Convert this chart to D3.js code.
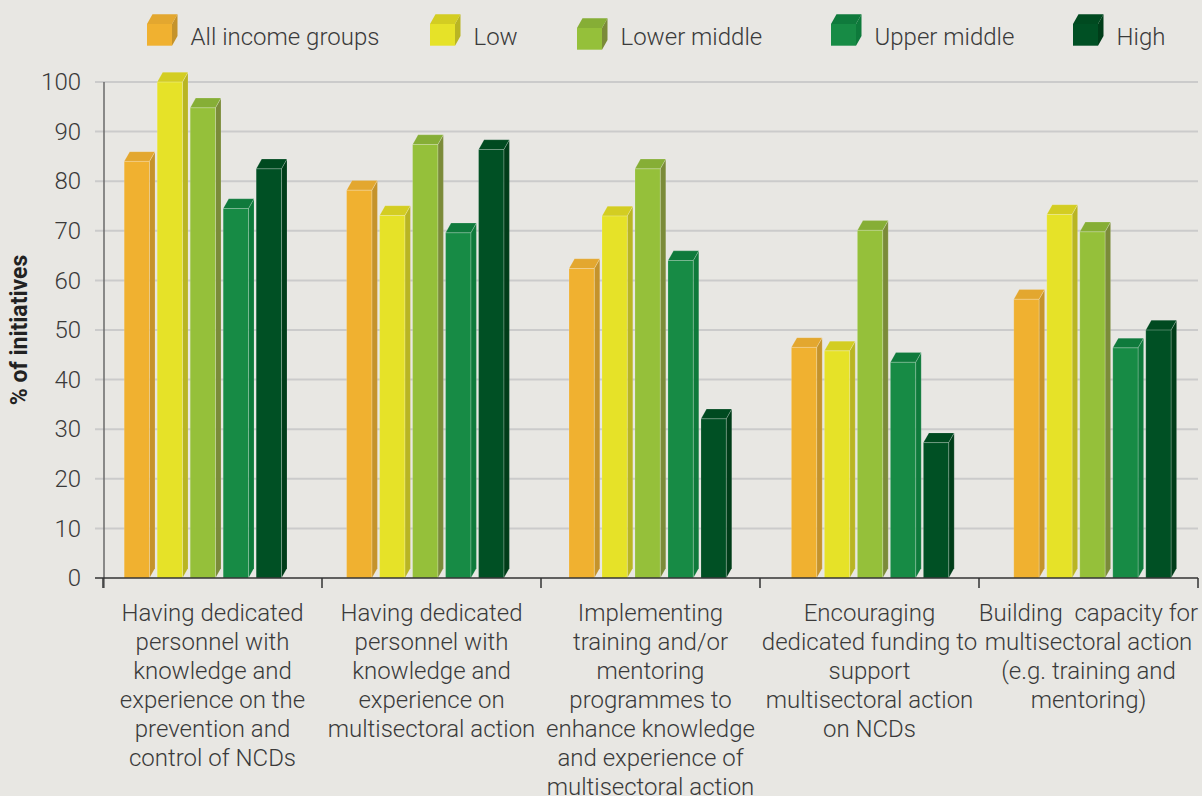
<!DOCTYPE html>
<html>
<head>
<meta charset="utf-8">
<script src="https://cdn.jsdelivr.net/npm/d3@7"></script>
<style>
  html, body { margin: 0; padding: 0; background: #e8e7e3; }
  svg { display: block; font-family: Roboto, "Noto Sans", sans-serif; }
  .lbl { white-space: pre; }
</style>
</head>
<body>
<svg id="chart" width="1202" height="796"></svg>
<script>
// categories (x axis), each one split into its printed lines
var categories = [
	["Having dedicated", "personnel with", "knowledge and", "experience on the", "prevention and", "control of NCDs"],
	["Having dedicated", "personnel with", "knowledge and", "experience on", "multisectoral action"],
	["Implementing", "training and/or", "mentoring", "programmes to", "enhance knowledge", "and experience of", "multisectoral action"],
	["Encouraging", "dedicated funding to", "support", "multisectoral action", "on NCDs"],
	["Building  capacity for", "multisectoral action", "(e.g. training and", "mentoring)"]
];

var seriesNames = ["All income groups", "Low", "Lower middle", "Upper middle", "High"];

// % of initiatives per category
var allIncome   = [84, 78.2, 62.4, 46.5, 56.2];
var lowIncome   = [100, 73.1, 73, 45.8, 73.3];
var lowerMiddle = [94.8, 87.4, 82.5, 70.1, 69.8];
var upperMiddle = [74.5, 69.6, 64, 43.5, 46.4];
var highIncome  = [82.5, 86.4, 32.1, 27.3, 50];

var yTicks = [0, 10, 20, 30, 40, 50, 60, 70, 80, 90, 100];

var seriesValues = [allIncome, lowIncome, lowerMiddle, upperMiddle, highIncome];

// front / top / side shade of each series
var colors = [
	{front: "#f0b130", top: "#e3a72f", side: "#c5932b"},
	{front: "#e6e228", top: "#d3cd22", side: "#b9b523"},
	{front: "#95c03a", top: "#86ae36", side: "#7b8b39"},
	{front: "#178b45", top: "#0f7a3c", side: "#0e7a3b"},
	{front: "#005024", top: "#004a20", side: "#003d19"}
];

var svg = d3.select("#chart");
var W = 1202, H = 796;
var depthX = 5.5, depthY = 9.7;

var catIdx = d3.range(categories.length);

var y = d3.scaleLinear().domain([0, 100]).range([578, 82]);

// tick bands for axis + labels
var xAxisBand = d3.scaleBand().domain(catIdx).range([103, 1198]);
// bar groups sit slightly off the tick bands in the original
var xGroup = d3.scaleBand().domain(catIdx).range([124.2, 124.2 + 5 * 222.4]);
var xSeries = d3.scaleBand().domain(d3.range(seriesNames.length)).range([0, 157.3]).paddingInner(0.233);

svg.append("rect").attr("width", W).attr("height", H).attr("fill", "#e8e7e3");

// grid lines
svg.append("g")
	.selectAll("line")
	.data(yTicks)
	.join("line")
	.attr("x1", 95)
	.attr("x2", 1198)
	.attr("y1", function(d){ return y(d); })
	.attr("y2", function(d){ return y(d); })
	.attr("stroke", function(d){ return d === 0 ? "none" : "#cbcbcb"; })
	.attr("stroke-width", 2);

// y axis
var yAxis = d3.axisLeft(y).tickValues(yTicks).tickSize(0).tickPadding(0);
var gy = svg.append("g").attr("transform", "translate(81,0)").call(yAxis);
gy.select(".domain").remove();
gy.selectAll("text")
	.attr("font-size", 24)
	.attr("font-weight", 300)
	.attr("fill", "#3a3a3a")
	.attr("font-family", "Roboto, sans-serif");

svg.append("line")
	.attr("x1", 104).attr("x2", 104)
	.attr("y1", y(100)).attr("y2", 588)
	.attr("stroke", "#6a6a6a").attr("stroke-width", 1.5);

// y title
svg.append("text")
	.attr("transform", "translate(27," + (y(0) + y(100)) / 2 + ") rotate(-90)")
	.attr("text-anchor", "middle")
	.attr("font-size", 23)
	.attr("font-weight", 700)
	.attr("fill", "#222")
	.text("% of initiatives");

function facePaths(x0, w, yTop, yBase){
	var dx = depthX, dy = depthY;
	return {
		front: "M" + x0 + "," + yBase + "H" + (x0 + w) + "V" + yTop + "H" + x0 + "Z",
		top: "M" + x0 + "," + yTop + "L" + (x0 + dx) + "," + (yTop - dy) + "H" + (x0 + w + dx) + "L" + (x0 + w) + "," + yTop + "Z",
		side: "M" + (x0 + w) + "," + yBase + "L" + (x0 + w + dx) + "," + (yBase - dy) + "V" + (yTop - dy) + "L" + (x0 + w) + "," + yTop + "Z"
	};
}

// bars
var barData = [];
catIdx.forEach(function(c){
	seriesValues.forEach(function(vals, s){
		barData.push({c: c, s: s, v: vals[c]});
	});
});

var bars = svg.append("g")
	.selectAll("g")
	.data(barData)
	.join("g");

bars.each(function(d){
	var g = d3.select(this);
	var p = facePaths(xGroup(d.c) + xSeries(d.s), xSeries.bandwidth(), y(d.v), y(0));
	g.append("path").attr("d", p.side).attr("fill", colors[d.s].side);
	g.append("path").attr("d", p.top).attr("fill", colors[d.s].top);
	g.append("path").attr("d", p.front).attr("fill", colors[d.s].front);
	g.append("path").attr("d", p.front + p.top + p.side)
		.attr("fill", "none").attr("stroke", "rgba(255,255,255,0.25)").attr("stroke-width", 0.6);
});

// x axis
var xAxisG = svg.append("g");
xAxisG.append("line")
	.attr("x1", 95).attr("x2", 1198)
	.attr("y1", y(0)).attr("y2", y(0))
	.attr("stroke", "#333").attr("stroke-width", 1.5);
xAxisG.selectAll(".tick")
	.data(catIdx.map(function(c){ return xAxisBand(c); }).concat([xAxisBand(4) + xAxisBand.bandwidth()]))
	.join("line")
	.attr("class", "tick")
	.attr("x1", function(d){ return d; })
	.attr("x2", function(d){ return d; })
	.attr("y1", y(0))
	.attr("y2", 588)
	.attr("stroke", "#333").attr("stroke-width", 1.5);

// category labels
var labels = svg.append("g")
	.selectAll("text")
	.data(catIdx)
	.join("text")
	.attr("class", "lbl")
	.attr("text-anchor", "middle")
	.attr("font-size", 24)
	.attr("font-weight", 300)
	.attr("fill", "#3a3a3a");

labels.each(function(c){
	var t = d3.select(this);
	var cx = xAxisBand(c) + xAxisBand.bandwidth() / 2;
	categories[c].forEach(function(line, i){
		t.append("tspan").attr("x", cx).attr("y", 621 + i * 29).text(line);
	});
});

// legend
var legendX = [147, 430, 577, 831, 1073];
var legend = svg.append("g")
	.selectAll("g")
	.data(seriesNames)
	.join("g")
	.attr("transform", function(d, i){
		return "translate(" + legendX[i] + "," + (i === 2 ? 4 : 0) + ")";
	});

legend.each(function(d, i){
	var g = d3.select(this);
	var p = facePaths(0, 25, 24, 45.7);
	g.append("path").attr("d", p.side).attr("fill", colors[i].side);
	g.append("path").attr("d", p.top).attr("fill", colors[i].top);
	g.append("path").attr("d", p.front).attr("fill", colors[i].front);
	g.append("text")
		.attr("x", 43.5)
		.attr("y", i === 2 ? 41 : 45)
		.attr("font-size", 24)
		.attr("font-weight", 300)
		.attr("fill", "#3a3a3a")
		.text(d);
});
</script>
</body>
</html>
